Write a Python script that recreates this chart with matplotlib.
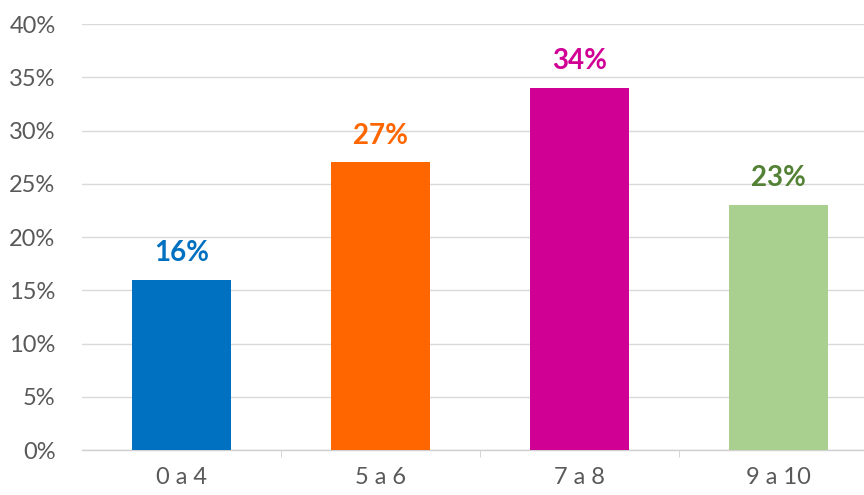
import matplotlib.pyplot as plt
from matplotlib.ticker import FuncFormatter

categories = ['0 a 4', '5 a 6', '7 a 8', '9 a 10']
values = [16, 27, 34, 23]
bar_colors = ['#0070C0', '#FF6600', '#D10095', '#A9D08E']
label_colors = ['#0070C0', '#FF6600', '#D10095', '#548235']
y_ticks = [0, 5, 10, 15, 20, 25, 30, 35, 40]

plt.rcParams['font.family'] = ['Lato', 'DejaVu Sans']

fig = plt.figure(figsize=(8.64, 4.95), dpi=100)
# axes runs a bit past the right edge, as in the reference crop
ax = fig.add_axes([0.0949, 0.0909, 0.921, 0.8606])

x = list(range(len(categories)))
ax.bar(x, values, width=0.5, color=bar_colors, zorder=3)

for xi, v, c in zip(x, values, label_colors):
    ax.text(xi, v + 1.3, f'{v}%', ha='center', va='bottom',
            fontsize=20, fontweight='bold', color=c)

ax.set_xlim(-0.5, 3.5)
ax.set_ylim(0, 40)
ax.set_yticks(y_ticks)
ax.yaxis.set_major_formatter(FuncFormatter(lambda v, p: f'{int(v)}%'))
ax.set_xticks(x)
ax.set_xticklabels(categories)
ax.set_xticks([0.5, 1.5, 2.5], minor=True)

ax.grid(axis='y', color='#D9D9D9', linewidth=1, zorder=0)
for s in ['top', 'right', 'left']:
    ax.spines[s].set_visible(False)
ax.spines['bottom'].set_color('#D0D0D0')
ax.spines['bottom'].set_linewidth(1)

ax.tick_params(axis='y', length=0, labelsize=17, labelcolor='#595959', pad=19)
ax.tick_params(axis='x', which='major', length=0, labelsize=17,
               labelcolor='#595959', pad=12)
ax.tick_params(axis='x', which='minor', length=5, color='#D0D0D0')

fig.savefig('out.png', dpi=100)
